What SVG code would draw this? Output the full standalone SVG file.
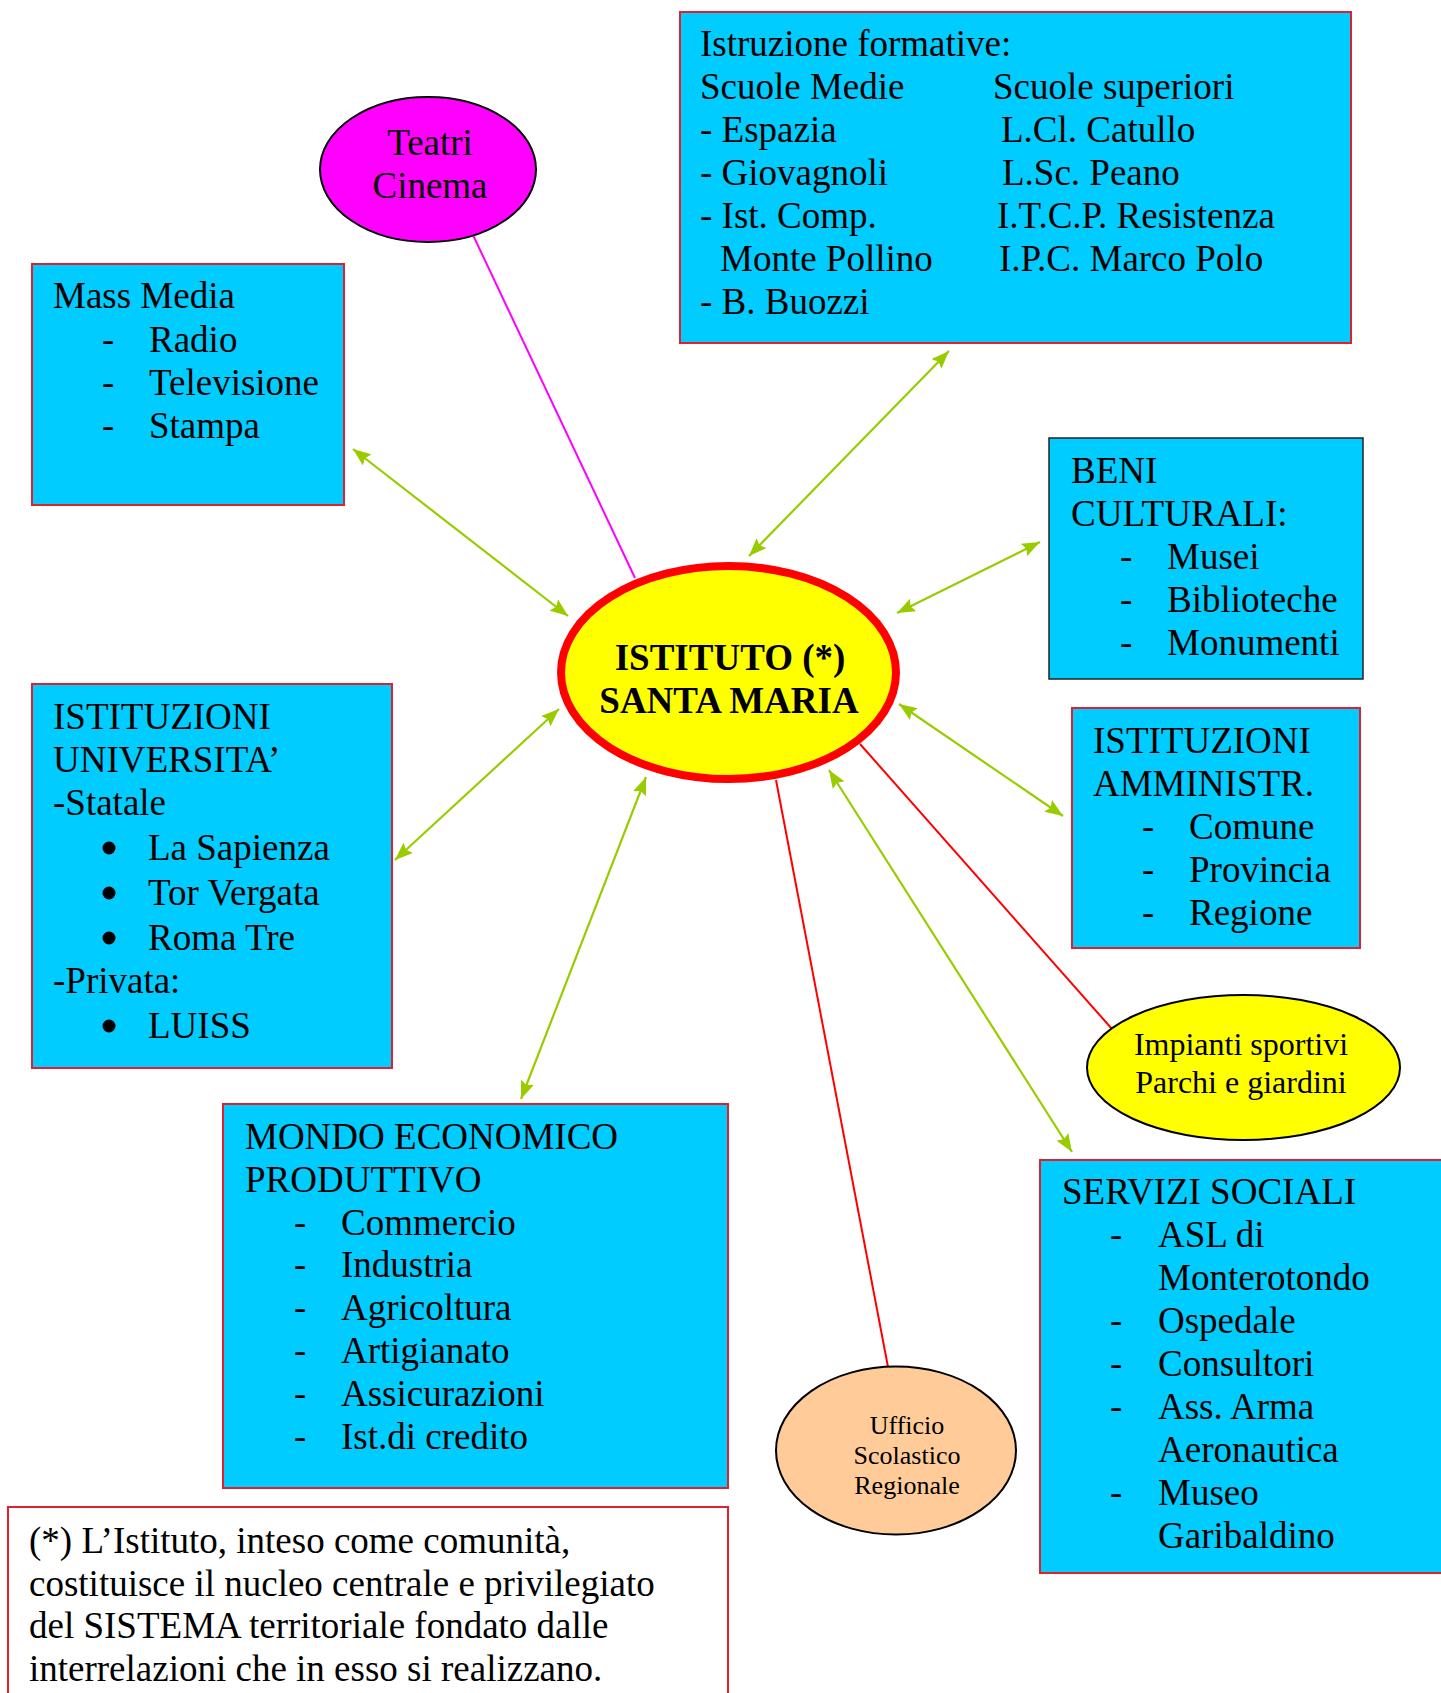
<svg xmlns="http://www.w3.org/2000/svg" width="1441" height="1693" viewBox="0 0 1441 1693">
  <style>
    text { font-family: "Liberation Serif", "Times New Roman", serif; font-size: 37px; fill: #000; }
    text.s32 { font-size: 32px; }
    text.s26 { font-size: 26px; }
    text.bold { font-weight: bold; }
    .box { fill: #00CCFF; stroke: #E0202E; stroke-width: 2; }
    .box-dark { fill: #00CCFF; stroke: #222; stroke-width: 1.5; }
    .note { fill: #FFFFFF; stroke: #E0202E; stroke-width: 2; }
    .mid { text-anchor: middle; }
    .link { stroke: #99CC00; stroke-width: 2.2; fill: none; marker-start: url(#arrow); marker-end: url(#arrow); }
    .red { stroke: #FF0000; stroke-width: 2; fill: none; }
    .pink { stroke: #FF00FF; stroke-width: 2; fill: none; }
  </style>
  <defs>
    <marker id="arrow" viewBox="0 0 18 14" refX="18" refY="7" markerWidth="18" markerHeight="14" markerUnits="userSpaceOnUse" orient="auto-start-reverse">
      <path d="M0,0 L18,7 L0,14 L3,7 z" fill="#99CC00"/>
    </marker>
  </defs>

  <rect width="1441" height="1693" fill="#FFFFFF"/>

  <!-- connectors -->
  <g id="connectors">
    <line class="pink" x1="473" y1="235" x2="635" y2="578"/>
    <line class="link" x1="353" y1="449" x2="568" y2="616"/>
    <line class="link" x1="949" y1="351" x2="749" y2="556"/>
    <line class="link" x1="1040" y1="542" x2="897" y2="613"/>
    <line class="link" x1="899" y1="704" x2="1063" y2="816"/>
    <line class="link" x1="559" y1="709" x2="395" y2="860"/>
    <line class="link" x1="646" y1="777" x2="521" y2="1099"/>
    <line class="link" x1="829" y1="770" x2="1072" y2="1152"/>
    <line class="red" x1="860" y1="744" x2="1112" y2="1029"/>
    <line class="red" x1="776" y1="780" x2="888" y2="1367"/>
  </g>

  <!-- education box -->
  <g id="istruzione">
    <rect class="box" x="680" y="12" width="671" height="331"/>
    <text x="700" y="56">Istruzione formative:</text>
    <text x="700" y="99">Scuole Medie</text>
    <text x="993" y="99">Scuole superiori</text>
    <text x="700" y="142">- Espazia</text>
    <text x="1001" y="142">L.Cl. Catullo</text>
    <text x="700" y="185">- Giovagnoli</text>
    <text x="1002" y="185">L.Sc. Peano</text>
    <text x="700" y="228">- Ist. Comp.</text>
    <text x="997" y="228">I.T.C.P. Resistenza</text>
    <text x="720" y="271">Monte Pollino</text>
    <text x="999" y="271">I.P.C. Marco Polo</text>
    <text x="700" y="314">- B. Buozzi</text>
  </g>

  <!-- theatres -->
  <g id="teatri">
    <ellipse cx="428" cy="169.5" rx="108" ry="72.5" fill="#FF00FF" stroke="#000" stroke-width="2"/>
    <text class="mid" x="430" y="155">Teatri</text>
    <text class="mid" x="430" y="198">Cinema</text>
  </g>

  <!-- mass media -->
  <g id="mass-media">
    <rect class="box" x="32" y="264" width="312" height="241"/>
    <text x="53" y="308">Mass Media</text>
    <text x="102" y="352">-</text><text x="149" y="352">Radio</text>
    <text x="102" y="395">-</text><text x="149" y="395">Televisione</text>
    <text x="102" y="438">-</text><text x="149" y="438">Stampa</text>
  </g>

  <!-- cultural heritage -->
  <g id="beni-culturali">
    <rect class="box-dark" x="1049" y="438" width="314" height="241"/>
    <text x="1071" y="483">BENI</text>
    <text x="1071" y="526">CULTURALI:</text>
    <text x="1120" y="569">-</text><text x="1167" y="569">Musei</text>
    <text x="1120" y="612">-</text><text x="1167" y="612">Biblioteche</text>
    <text x="1120" y="655">-</text><text x="1167" y="655">Monumenti</text>
  </g>

  <!-- central node -->
  <g id="istituto">
    <ellipse cx="728.5" cy="672.5" rx="167.5" ry="106.5" fill="#FFFF00" stroke="#FF0000" stroke-width="8"/>
    <text class="mid bold" x="730" y="670">ISTITUTO (*)</text>
    <text class="mid bold" x="729" y="713">SANTA MARIA</text>
  </g>

  <!-- administrations -->
  <g id="amministrazioni">
    <rect class="box" x="1072" y="708" width="288" height="240"/>
    <text x="1093" y="753">ISTITUZIONI</text>
    <text x="1093" y="796">AMMINISTR.</text>
    <text x="1142" y="839">-</text><text x="1189" y="839">Comune</text>
    <text x="1142" y="882">-</text><text x="1189" y="882">Provincia</text>
    <text x="1142" y="925">-</text><text x="1189" y="925">Regione</text>
  </g>

  <!-- universities -->
  <g id="universita">
    <rect class="box" x="32" y="684" width="360" height="384"/>
    <text x="53" y="729">ISTITUZIONI</text>
    <text x="53" y="772">UNIVERSITA’</text>
    <text x="53" y="815">-Statale</text>
    <circle cx="109" cy="848" r="6.5"/><text x="148" y="860">La Sapienza</text>
    <circle cx="109" cy="893" r="6.5"/><text x="148" y="905">Tor Vergata</text>
    <circle cx="109" cy="938" r="6.5"/><text x="148" y="950">Roma Tre</text>
    <text x="53" y="993">-Privata:</text>
    <circle cx="109" cy="1026" r="6.5"/><text x="148" y="1038">LUISS</text>
  </g>

  <!-- sports and parks -->
  <g id="impianti">
    <ellipse cx="1243.5" cy="1067.5" rx="156.5" ry="72.5" fill="#FFFF00" stroke="#000" stroke-width="2"/>
    <text class="mid s32" x="1241" y="1055">Impianti sportivi</text>
    <text class="mid s32" x="1241" y="1093">Parchi e giardini</text>
  </g>

  <!-- economy -->
  <g id="mondo-economico">
    <rect class="box" x="223" y="1104" width="505" height="384"/>
    <text x="245" y="1149">MONDO ECONOMICO</text>
    <text x="245" y="1192">PRODUTTIVO</text>
    <text x="294" y="1235">-</text><text x="341" y="1235">Commercio</text>
    <text x="294" y="1277">-</text><text x="341" y="1277">Industria</text>
    <text x="294" y="1320">-</text><text x="341" y="1320">Agricoltura</text>
    <text x="294" y="1363">-</text><text x="341" y="1363">Artigianato</text>
    <text x="294" y="1406">-</text><text x="341" y="1406">Assicurazioni</text>
    <text x="294" y="1449">-</text><text x="341" y="1449">Ist.di credito</text>
  </g>

  <!-- regional school office -->
  <g id="ufficio">
    <ellipse cx="896" cy="1450.5" rx="120" ry="84" fill="#FFCC99" stroke="#000" stroke-width="2"/>
    <text class="mid s26" x="907" y="1434">Ufficio</text>
    <text class="mid s26" x="907" y="1464">Scolastico</text>
    <text class="mid s26" x="907" y="1494">Regionale</text>
  </g>

  <!-- social services -->
  <g id="servizi-sociali">
    <rect class="box" x="1040" y="1160" width="410" height="413"/>
    <text x="1062" y="1204">SERVIZI SOCIALI</text>
    <text x="1110" y="1247">-</text><text x="1158" y="1247">ASL di</text>
    <text x="1158" y="1290">Monterotondo</text>
    <text x="1110" y="1333">-</text><text x="1158" y="1333">Ospedale</text>
    <text x="1110" y="1376">-</text><text x="1158" y="1376">Consultori</text>
    <text x="1110" y="1419">-</text><text x="1158" y="1419">Ass. Arma</text>
    <text x="1158" y="1462">Aeronautica</text>
    <text x="1110" y="1505">-</text><text x="1158" y="1505">Museo</text>
    <text x="1158" y="1548">Garibaldino</text>
  </g>

  <!-- footnote -->
  <g id="nota">
    <rect class="note" x="8" y="1507" width="720" height="200"/>
    <text x="29" y="1553">(*) L’Istituto, inteso come comunità,</text>
    <text x="29" y="1596">costituisce il nucleo centrale e privilegiato</text>
    <text x="29" y="1638">del SISTEMA territoriale fondato dalle</text>
    <text x="29" y="1681">interrelazioni che in esso si realizzano.</text>
  </g>
</svg>
